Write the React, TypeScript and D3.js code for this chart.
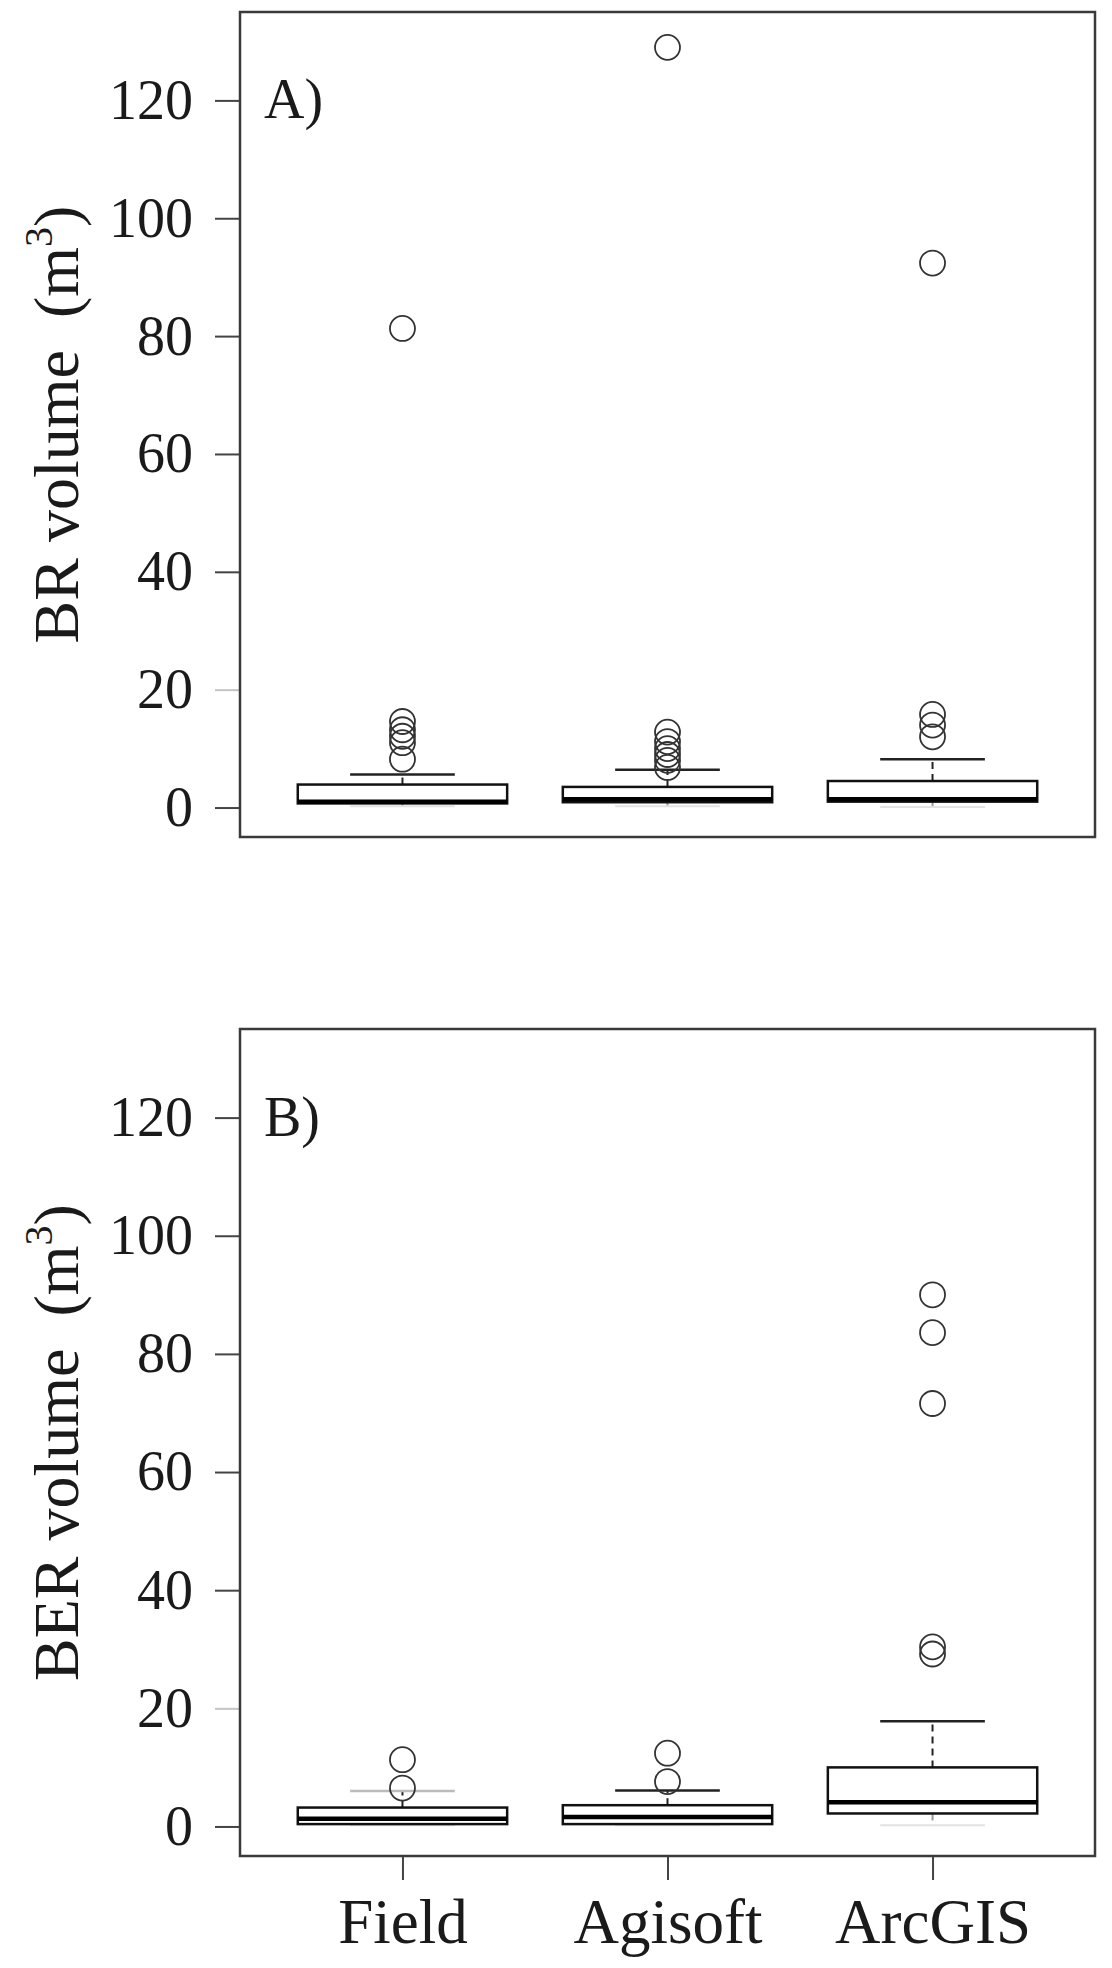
import React, { useRef, useEffect } from "react";
import { select, scaleLinear, scalePoint, axisLeft, axisBottom } from "d3";

const categories = ["Field", "Agisoft", "ArcGIS"];
const yTicks = [0, 20, 40, 60, 80, 100, 120];

// [lower whisker, q1, median, q3, upper whisker]
const brStats = [
  [0.2, 0.7, 1.0, 3.9, 5.6],
  [0.2, 0.9, 1.4, 3.5, 6.4],
  [0.1, 1.0, 1.4, 4.5, 8.2],
];
const brOutliers = [
  [8.2, 11.0, 12.1, 13.2, 14.6, 81.3],
  [6.8, 8.0, 9.0, 10.0, 11.2, 12.8, 129.0],
  [12.0, 14.0, 15.8, 92.4],
];

const berStats = [
  [0.2, 0.4, 1.3, 3.2, 6.0],
  [0.2, 0.4, 1.6, 3.6, 6.1],
  [0.2, 2.2, 4.1, 10.0, 17.8],
];
const berOutliers = [
  [6.5, 11.3],
  [7.6, 12.4],
  [29.2, 30.4, 71.6, 83.6, 90.0],
];

const width = 1112,
  height = 1968;
const left = 240,
  right = 1095;
const font = "'Liberation Serif', 'Times New Roman', serif";

const panels = [
  { top: 12, bottom: 837, tag: "A)", title: "BR volume", stats: brStats, outliers: brOutliers, xLabels: false },
  { top: 1029, bottom: 1856, tag: "B)", title: "BER volume", stats: berStats, outliers: berOutliers, xLabels: true },
];

function App() {
  const svgRef = useRef(null);

  useEffect(() => {
    const svg = select(svgRef.current);
    svg.selectAll("*").remove();

    const x = scalePoint().domain(categories).range([left, right]).padding(0.613);
    const bw = x.step() * 0.79;

    panels.forEach((p) => {
      const y = scaleLinear().domain([-5, 135]).range([p.bottom, p.top]);
      const g = svg.append("g");

      // y axis
      const ax = g
        .append("g")
        .attr("transform", `translate(${left},0)`)
        .call(axisLeft(y).tickValues(yTicks).tickSize(25).tickPadding(22));
      ax.select(".domain").remove();
      ax.selectAll(".tick line")
        .attr("stroke", (d) => (d === 20 ? "#c4c4c4" : "#444"))
        .attr("stroke-width", 2);
      ax.selectAll(".tick text")
        .attr("fill", "#1a1a1a")
        .style("font-family", font)
        .style("font-size", "56px");

      // x axis only on the lower panel
      if (p.xLabels) {
        const bx = g
          .append("g")
          .attr("transform", `translate(0,${p.bottom})`)
          .call(axisBottom(x).tickSize(24).tickPadding(18));
        bx.select(".domain").remove();
        bx.selectAll(".tick line").attr("stroke", "#444").attr("stroke-width", 2);
        bx.selectAll(".tick text")
          .attr("fill", "#1a1a1a")
          .style("font-family", font)
          .style("font-size", "63px");
      }

      // boxes
      categories.forEach((c, i) => {
        const [lo, q1, med, q3, hi] = p.stats[i];
        const cx = x(c);
        const bg = g.append("g");

        bg.append("line")
          .attr("x1", cx).attr("x2", cx)
          .attr("y1", y(q3)).attr("y2", y(hi))
          .attr("stroke", "#222").attr("stroke-width", 2)
          .attr("stroke-dasharray", "7,5");
        bg.append("line")
          .attr("x1", cx).attr("x2", cx)
          .attr("y1", y(q1)).attr("y2", y(lo))
          .attr("stroke", "#999").attr("stroke-width", 2)
          .attr("stroke-dasharray", "7,5");
        bg.append("line")
          .attr("x1", cx - bw / 4).attr("x2", cx + bw / 4)
          .attr("y1", y(hi)).attr("y2", y(hi))
          .attr("stroke", i === 0 && p.xLabels ? "#bbb" : "#222")
          .attr("stroke-width", 2.5);
        bg.append("line")
          .attr("x1", cx - bw / 4).attr("x2", cx + bw / 4)
          .attr("y1", y(lo)).attr("y2", y(lo))
          .attr("stroke", "#e2e2e2")
          .attr("stroke-width", 2);

        bg.append("rect")
          .attr("x", cx - bw / 2)
          .attr("y", y(q3))
          .attr("width", bw)
          .attr("height", y(q1) - y(q3))
          .attr("fill", "white")
          .attr("stroke", "#111")
          .attr("stroke-width", 2.5);
        bg.append("line")
          .attr("x1", cx - bw / 2).attr("x2", cx + bw / 2)
          .attr("y1", y(med)).attr("y2", y(med))
          .attr("stroke", "#000").attr("stroke-width", 4.5);

        bg.selectAll("circle")
          .data(p.outliers[i])
          .join("circle")
          .attr("cx", cx)
          .attr("cy", (d) => y(d))
          .attr("r", 12.5)
          .attr("fill", "none")
          .attr("stroke", "#333")
          .attr("stroke-width", 1.8);
      });

      // frame
      g.append("rect")
        .attr("x", left)
        .attr("y", p.top)
        .attr("width", right - left)
        .attr("height", p.bottom - p.top)
        .attr("fill", "none")
        .attr("stroke", "#3a3a3a")
        .attr("stroke-width", 2.5);

      // panel tag
      g.append("text")
        .attr("x", 264)
        .attr("y", y(120) + 18)
        .attr("fill", "#1a1a1a")
        .style("font-family", font)
        .style("font-size", "56px")
        .text(p.tag);

      // y title with superscript
      const t = g
        .append("text")
        .attr("transform", `translate(78,${(p.top + p.bottom) / 2}) rotate(-90)`)
        .attr("text-anchor", "middle")
        .attr("fill", "#1a1a1a")
        .style("font-family", font)
        .style("font-size", "64px")
        .style("white-space", "pre");
      t.append("tspan").text(`${p.title}  (m`);
      t.append("tspan").attr("dy", -26).style("font-size", "40px").text("3");
      t.append("tspan").attr("dy", 26).text(")");
    });
  }, []);

  return (
    <svg
      ref={svgRef}
      width={width}
      height={height}
      style={{ position: "absolute", left: 0, top: 0, background: "white" }}
    />
  );
}

export default App;
